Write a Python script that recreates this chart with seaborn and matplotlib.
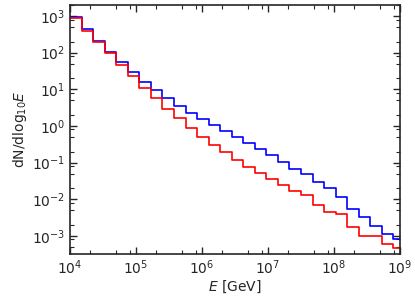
import numpy as np
import pandas as pd
import seaborn as sns
from matplotlib import pyplot as plt
from matplotlib import ticker

# bin edges in log10(E/GeV), 0.175 dex wide
log_edges = 4 + 0.175 * np.arange(30)

# dN/dlog10E per bin
blue_vals = [942, 435, 212, 106, 54.7, 30.3, 16.2, 9.6, 5.7, 3.5,
             2.31, 1.55, 1.04, 0.73, 0.51, 0.337, 0.236, 0.162, 0.106, 0.067,
             0.0475, 0.0297, 0.0197, 0.0116, 0.00544, 0.00329, 0.00187, 0.0011, 0.00083]
red_vals = [885, 398, 192, 96.3, 46.2, 23.1, 11.1, 5.7, 2.95, 1.62,
            0.865, 0.50, 0.309, 0.189, 0.118, 0.0747, 0.0512, 0.0351, 0.0246, 0.0171,
            0.0127, 0.00699, 0.00442, 0.0039, 0.00175, 0.000997, 0.00102, 0.00059, 0.000455]

edges = 10 ** log_edges
df = pd.DataFrame({
    'E': np.concatenate([edges, edges]),
    'val': np.concatenate([blue_vals + [blue_vals[-1]], red_vals + [red_vals[-1]]]),
    'series': ['blue'] * len(edges) + ['red'] * len(edges),
})

sns.set_style('ticks')
plt.rcParams['font.family'] = ['DejaVu Sans']

fig = plt.figure(figsize=(4.15, 2.97), dpi=100)
ax = fig.add_axes([0.1687, 0.1448, 0.7952, 0.8385])

sns.lineplot(data=df, x='E', y='val', hue='series', palette={'blue': '#0000ff', 'red': '#ff0000'},
             drawstyle='steps-post', linewidth=1.2, legend=False, ax=ax, estimator=None, sort=False)

ax.set_xscale('log')
ax.set_yscale('log')
ax.set_xlim(1e4, 1e9)
ax.set_ylim(3.2e-4, 2e3)

for axis in (ax.xaxis, ax.yaxis):
    axis.set_major_locator(ticker.LogLocator(base=10, numticks=20))
    axis.set_minor_locator(ticker.LogLocator(base=10, subs=(2, 5, 8), numticks=20))
    axis.set_minor_formatter(ticker.NullFormatter())

ax.tick_params(which='both', direction='in', top=True, right=True, labelsize=10)
ax.tick_params(which='major', length=5, width=1)
ax.tick_params(which='minor', length=3, width=0.8)
for s in ax.spines.values():
    s.set_linewidth(1.2)

ax.set_xlabel('$E$ [GeV]', fontsize=10, labelpad=1)
ax.set_ylabel('dN/dlog$_{10}E$', fontsize=10, labelpad=2)

fig.savefig('out.png', dpi=100)
